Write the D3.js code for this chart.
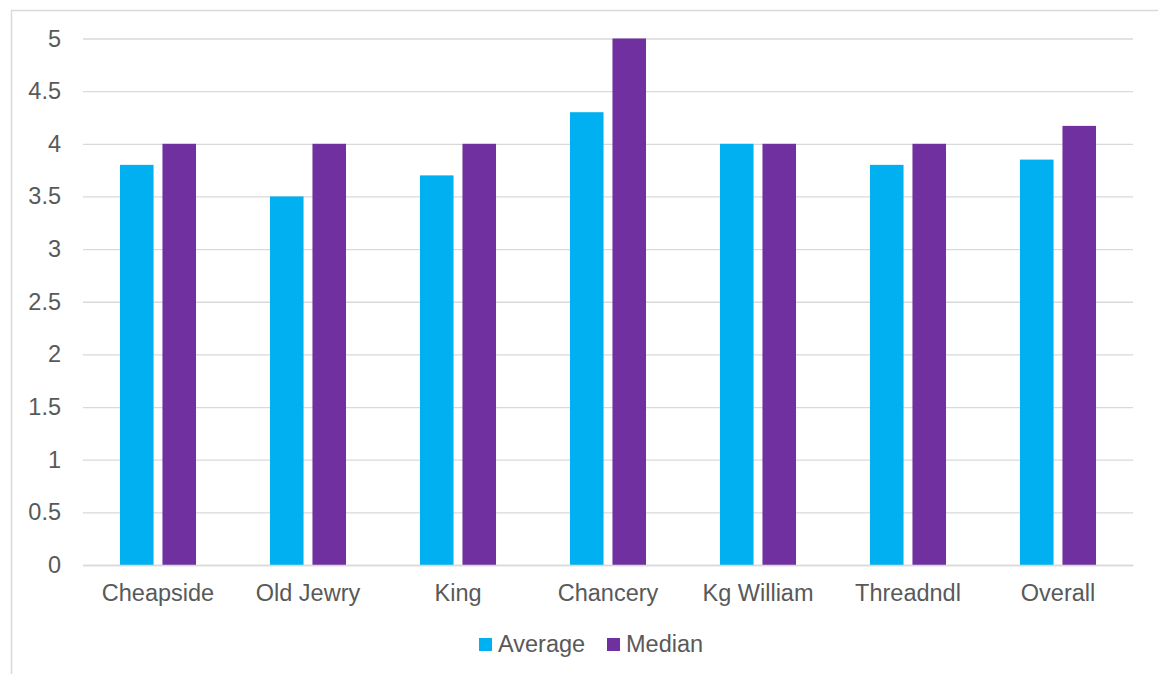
<!DOCTYPE html>
<html>
<head>
<meta charset="utf-8">
<script src="https://cdn.jsdelivr.net/npm/d3@7"></script>
<style>
  body { margin: 0; background: #fff; }
  text { font-family: "Liberation Sans", Arial, sans-serif; fill: #595959; }
</style>
</head>
<body>
<div id="viz"></div>
<script>
const streets = ['Cheapside', 'Old Jewry', 'King', 'Chancery', 'Kg William', 'Threadndl', 'Overall'];
const averageValues = [3.8, 3.5, 3.7, 4.3, 4.0, 3.8, 3.85];
const medianValues = [4, 4, 4, 5, 4, 4, 4.17];
const seriesNames = ['Average', 'Median'];
const yTicks = [0, 0.5, 1, 1.5, 2, 2.5, 3, 3.5, 4, 4.5, 5];

const colorAverage = '#00B0F0';
const colorMedian = '#7030A0';
const gridColor = '#d9d9d9';

function createViz(){

  let dimensions = {
    width: 1158,
    height: 674,
    margin: { top: 38.5, right: 25, bottom: 109, left: 83 }
  }
  dimensions.boundedWidth = dimensions.width - dimensions.margin.left - dimensions.margin.right
  dimensions.boundedHeight = dimensions.height - dimensions.margin.top - dimensions.margin.bottom

  const wrapper = d3.select('#viz')
    .append('svg')
    .attr('width', dimensions.width)
    .attr('height', dimensions.height)

  // chart frame
  wrapper.append('rect')
    .attr('x', 11.5)
    .attr('y', 10.5)
    .attr('width', dimensions.width + 20)
    .attr('height', dimensions.height + 20)
    .attr('fill', 'none')
    .attr('stroke', gridColor)
    .attr('stroke-width', 1.5)

  const chart = wrapper.append('g')
    .attr('transform', `translate(${dimensions.margin.left},${dimensions.margin.top})`)

  const data = streets.map((s, i) => ({ street: s, Average: averageValues[i], Median: medianValues[i] }))

  const yScale = d3.scaleLinear()
    .domain([0, 5])
    .range([dimensions.boundedHeight, 0])

  const xScale = d3.scaleBand()
    .domain(streets)
    .range([0, dimensions.boundedWidth])
    .paddingInner(0.493)
    .paddingOuter(0.2465)

  const xInner = d3.scaleBand()
    .domain(seriesNames)
    .range([0, xScale.bandwidth()])
    .paddingInner(0.21)

  const color = d3.scaleOrdinal().domain(seriesNames).range([colorAverage, colorMedian])

  // gridlines + y labels
  const yAxis = chart.append('g')
    .call(d3.axisLeft(yScale).tickValues(yTicks).tickSize(-dimensions.boundedWidth).tickPadding(22).tickFormat(d3.format('')))
  yAxis.select('.domain').remove()
  yAxis.selectAll('line').attr('stroke', gridColor).attr('stroke-width', 1.3)
  yAxis.selectAll('text')
    .style('font-size', '23.5px')
    .style('font-family', '"Liberation Sans", Arial, sans-serif')
    .attr('fill', '#595959')

  // bars
  const groups = chart.append('g')
    .selectAll('g')
    .data(data)
    .join('g')
    .attr('transform', d => `translate(${xScale(d.street)},0)`)

  groups.selectAll('rect')
    .data(d => seriesNames.map(k => ({ key: k, value: d[k] })))
    .join('rect')
    .attr('x', d => xInner(d.key))
    .attr('width', xInner.bandwidth())
    .attr('y', d => yScale(d.value))
    .attr('height', d => yScale(0) - yScale(d.value))
    .attr('fill', d => color(d.key))

  // x axis
  const xAxis = chart.append('g')
    .attr('transform', `translate(0,${dimensions.boundedHeight})`)
    .call(d3.axisBottom(xScale).tickSize(0).tickPadding(19))
  xAxis.select('.domain').attr('stroke', gridColor).attr('stroke-width', 1.3)
  xAxis.selectAll('text')
    .style('font-size', '23.5px')
    .style('font-family', '"Liberation Sans", Arial, sans-serif')
    .attr('fill', '#595959')

  // legend
  const legend = wrapper.append('g')
  const legendX = [479, 607]
  seriesNames.forEach((name, i) => {
    legend.append('rect')
      .attr('x', legendX[i])
      .attr('y', 638)
      .attr('width', 13)
      .attr('height', 13)
      .attr('fill', color(name))
    legend.append('text')
      .attr('x', legendX[i] + 19)
      .attr('y', 652)
      .style('font-size', '23.5px')
      .text(name)
  })
}

createViz();
</script>
</body>
</html>
